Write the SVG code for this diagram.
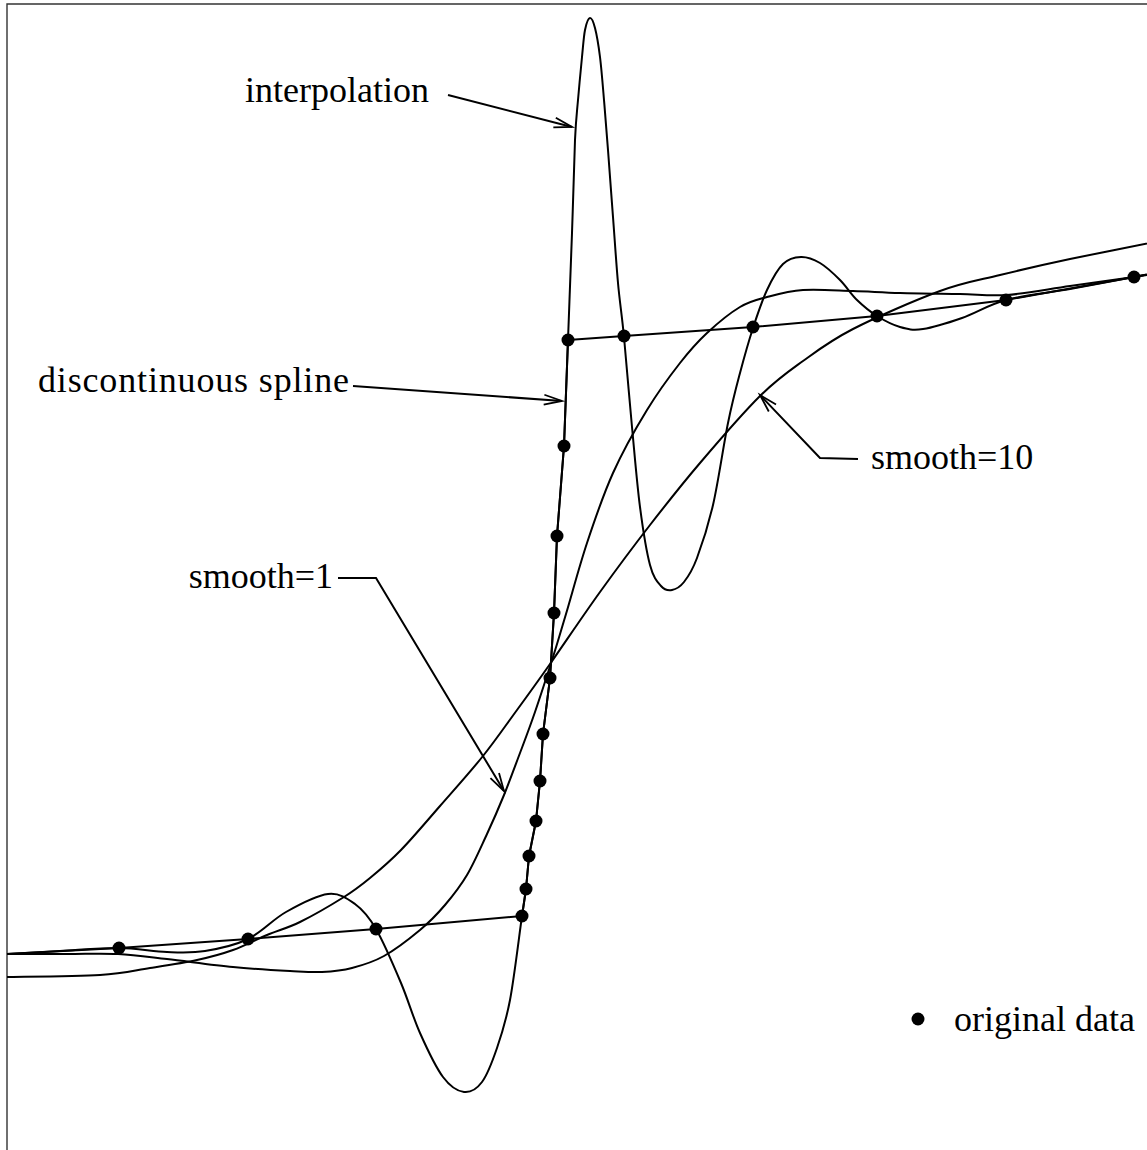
<svg xmlns="http://www.w3.org/2000/svg" width="1147" height="1150" viewBox="0 0 1147 1150">
<style>
.frame{fill:none;stroke:#333;stroke-width:1.4}
.curve{fill:none;stroke:#000;stroke-width:2;stroke-linejoin:round}
.lead{fill:none;stroke:#000;stroke-width:2;stroke-linejoin:miter}
.lbl{font-family:"Liberation Serif","Times New Roman",serif;font-size:36px;fill:#000}
.dot{fill:#000}
</style>
<defs>
<marker id="arr" markerUnits="userSpaceOnUse" markerWidth="24" markerHeight="16" refX="20" refY="8" orient="auto" overflow="visible">
<path d="M2,3 L20,8 L2,13" fill="none" stroke="#000" stroke-width="1.8"/>
</marker>
</defs>
<rect width="1147" height="1150" fill="#fff"/>
<path class="frame" d="M7,1150 V4 H1147"/>
<g id="curves">
<path id="discontinuous-spline" class="curve" d="M7,954 L119,948 L248,939 L376,929 L522,916 L526,889 L529,856 L536,821 L540,781 L543,734 L550,678 L554,613 L557,536 L564,446 L568,340 L624,336 L753,327 L877,316 L1006,300 L1134,277 L1165,271"/>
<path id="interpolation-curve" class="curve" d="M7,954 C15.8,953.5 41.3,952 60,951 S101.2,947.8 119,948 S152.7,951.5 167,952 S191.5,953.2 205,951 S234.5,945.5 248,939 S272.7,919.5 286,912 S316.5,895.3 328,894 S347,898.2 355,904 S368.3,915.8 376,929 S393.7,965.7 401,983 S413,1017.3 420,1033 S435.7,1067.2 443,1077 S457.5,1091.2 464,1092 S476.5,1089.3 482,1082 S492.3,1061.7 497,1048 S505.8,1022 510,1000 S519.3,934.5 522,916 L526,889 L529,856 L536,821 L540,781 L543,734 L550,678 L554,613 L557,536 L564,446 L568,340 C569.3,304.5 570.8,266.3 572,233 S574,162.2 575,140 S576.8,113.8 578,100 S580.8,68.7 582,57 S583.7,36.5 585,30 S588.3,18.3 590,18 S593.3,21.5 595,28 S598.5,45 600,57 S602.7,84.5 604,100 S606.5,130.5 608,150 S611.3,194.8 613,217 S616.2,263 618,283 S621.7,313 624,337 S629.3,398.7 632,427 S637,484 640,507 S646.5,551.8 650,565 S657.3,581.8 661,586 S668.2,590.7 672,590 S679.8,587.3 684,582 S692.2,570.8 697,558 S707.8,527.5 713,505 S723.5,445 728,423 S735.8,388.8 740,373 S748.5,341.8 753,328 S762,300.7 767,290 S777.3,269.5 783,264 S794.8,257.2 801,257 S813.5,259.2 820,263 S833.8,273.8 840,280 S850.8,294 857,300 S869.8,311.5 877,316 S892.3,324.8 900,327 S912.7,330.5 923,329 S948.2,322.8 962,318 S988,304.8 1006,300 S1048.7,292.8 1070,289 S1118.2,280 1134,277 S1159.8,272 1165,271"/>
<path id="smooth-1-curve" class="curve" d="M7,954 C17,954 48.5,954 67,954 S101.3,953.2 118,954 S147.8,956.8 167,959 S212.5,965 233,967 S275.2,970.2 290,971 S311.7,972.5 322,972 S341.7,970.7 352,968 S372.7,962.3 384,956 S409.8,938.5 420,930 S437.2,914.2 445,905 S460,886.8 467,875 S480.8,847.3 487,834 S498.5,808.5 504,795 S514.8,766.8 520,753 S529.5,728 535,712 S547.8,673.3 553,657 S560.3,633 566,614 S579.2,566.5 587,543 S603,495.2 613,473 S635.8,428.3 647,410 S670,375.8 680,363 S697,342.3 707,333 S730,313 740,307 S756.5,299.8 767,297 S788.7,291 803,290 S836.8,290.5 853,291 S882.2,292.5 900,293 S942.2,293.7 960,294 S988.7,296.3 1007,295 S1048.8,289 1070,286 S1118.2,279.3 1134,277 S1159.8,272.8 1165,272"/>
<path id="smooth-10-curve" class="curve" d="M7,977 C22.5,976.7 76.2,976.5 100,975 S133.8,970.5 150,968 S183.2,963 197,960 S221.3,954.2 233,950 S255.8,939.7 267,935 S287.2,928.3 300,922 S332.3,904.3 344,897 S360.5,885.8 370,878 S389.3,862 401,850 S426.3,821.7 440,806 S470.2,772 483,756 S505.8,725.3 517,710 S536.2,683.7 550,664 S583.3,615.2 600,592 S633.3,546.5 650,525 S681.7,484.5 700,463 S742.8,413 760,396 S787.5,372.2 803,361 S830.2,340.7 853,329 S915.5,300 940,291 S978.3,280.3 1000,275 S1042.5,264.8 1070,259 S1149.2,243.2 1165,240"/>
</g>
<g id="data-points">
<circle class="dot" cx="119" cy="948" r="6.5"/>
<circle class="dot" cx="248" cy="939" r="6.5"/>
<circle class="dot" cx="376" cy="929" r="6.5"/>
<circle class="dot" cx="522" cy="916" r="6.5"/>
<circle class="dot" cx="526" cy="889" r="6.5"/>
<circle class="dot" cx="529" cy="856" r="6.5"/>
<circle class="dot" cx="536" cy="821" r="6.5"/>
<circle class="dot" cx="540" cy="781" r="6.5"/>
<circle class="dot" cx="543" cy="734" r="6.5"/>
<circle class="dot" cx="550" cy="678" r="6.5"/>
<circle class="dot" cx="554" cy="613" r="6.5"/>
<circle class="dot" cx="557" cy="536" r="6.5"/>
<circle class="dot" cx="564" cy="446" r="6.5"/>
<circle class="dot" cx="568" cy="340" r="6.5"/>
<circle class="dot" cx="624" cy="336" r="6.5"/>
<circle class="dot" cx="753" cy="327" r="6.5"/>
<circle class="dot" cx="877" cy="316" r="6.5"/>
<circle class="dot" cx="1006" cy="300" r="6.5"/>
<circle class="dot" cx="1134" cy="277" r="6.5"/>
</g>
<g id="connectors">
<path class="lead" d="M448,95 L572,127" marker-end="url(#arr)"/>
<path class="lead" d="M353,386 L562,401" marker-end="url(#arr)"/>
<path class="lead" d="M338,578 L376,578 L504,791" marker-end="url(#arr)"/>
<path class="lead" d="M858,459 L820,458 L760,395" marker-end="url(#arr)"/>
</g>
<g id="label-interpolation"><text class="lbl" x="245" y="102">interpolation</text></g>
<g id="label-discontinuous"><text class="lbl" x="38" y="392" textLength="311" lengthAdjust="spacing">discontinuous spline</text></g>
<g id="label-smooth1"><text class="lbl" x="333" y="588" text-anchor="end">smooth=1</text></g>
<g id="label-smooth10"><text class="lbl" x="871" y="469">smooth=10</text></g>
<g id="legend">
<circle class="dot" cx="918" cy="1019" r="6.5"/>
<text class="lbl" x="954" y="1031">original data</text>
</g>
</svg>
